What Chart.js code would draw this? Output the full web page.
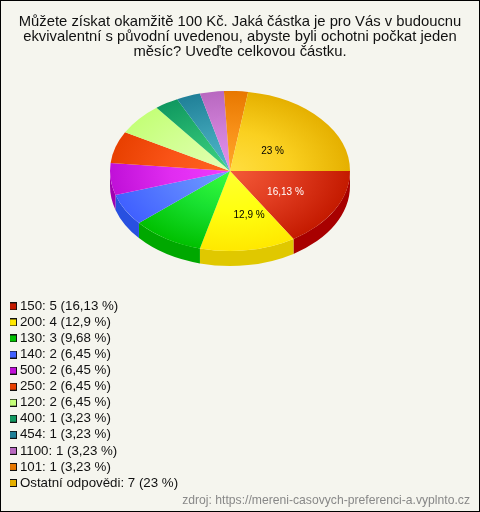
<!DOCTYPE html>
<html><head><meta charset="utf-8">
<style>html,body{margin:0;padding:0;background:#f5f5ee}canvas{display:block}</style>
<script src="https://cdn.jsdelivr.net/npm/chart.js@4"></script></head>
<body><canvas id="c" width="480" height="512"></canvas>
<script>
const categories=["150","200","130","140","500","250","120","400","454","1100","101","Ostatní odpovědi"];
const counts=[5,4,3,2,2,2,2,1,1,1,1,7];
const percents=["16,13","12,9","9,68","6,45","6,45","6,45","6,45","3,23","3,23","3,23","3,23","23"];
const titleLines=["Můžete získat okamžitě 100 Kč. Jaká částka je pro Vás v budoucnu","ekvivalentní s původní uvedenou, abyste byli ochotni počkat jeden","měsíc? Uveďte celkovou částku."];
const sourceText="zdroj: https://mereni-casovych-preferenci-a.vyplnto.cz";
const legendColors=["#c41a00","#ffe800","#00c000","#4060ff","#c010d8","#e84000","#c4ff78","#109860","#208098","#b868c0","#e87800","#e5b000"];
const innerColors=["#f45a38","#ffff30","#38ff40","#70a0ff","#f03cff","#ff6420","#e4ffb4","#40d484","#50b8cc","#e490f0","#ffa828","#ffde40"];
const midColors=["#e03c20","#ffff10","#18e030","#5a80ff","#e02cf0","#fa5418","#d4ff98","#28b870","#3ca0b4","#d080d8","#f89018","#fad020"];
const sideColors=["#a80000","#e0c800","#00a800","#2850e0","#a000b0","#c03000","#a0d060","#087848","#106880","#985090","#c06000","#c09000"];
const sliceLabels={0:{t:"16,13 %",c:"#fff",dx:3,dy:2},1:{t:"12,9 %",c:"#000",dx:10,dy:5},11:{t:"23 %",c:"#000",dx:-3,dy:6}};
const CX=230,CY=171,SQ=2/3,DEPTH=15,R=120;
const bg="#f5f5ee";
const swatch=i=>{const s=document.createElement('canvas');s.width=8;s.height=8;const g=s.getContext('2d');
 g.fillStyle="#111";g.fillRect(0,0,8,8);g.fillStyle=legendColors[i];g.fillRect(1,1,6,6);return s;};
const pie3d={id:'pie3d',
 beforeDraw(ch){const x=ch.ctx;x.save();x.fillStyle=bg;x.fillRect(0,0,480,512);x.strokeStyle="#000";x.lineWidth=1;x.strokeRect(.5,.5,479,511);x.restore();},
 beforeDatasetsDraw(ch){const x=ch.ctx,arcs=ch.getDatasetMeta(0).data;
  arcs.forEach((a,i)=>{
   const norm=v=>{let t=v%(2*Math.PI);return t<0?t+2*Math.PI:t;};
   let s=norm(a.startAngle),e=s+(a.endAngle-a.startAngle);
   s=Math.max(s,0);e=Math.min(e,Math.PI);
   if(e<=s)return;
   x.beginPath();x.ellipse(CX,CY+DEPTH,a.outerRadius,a.outerRadius*SQ,0,s,e);
   x.ellipse(CX,CY,a.outerRadius,a.outerRadius*SQ,0,e,s,true);x.closePath();
   x.fillStyle=sideColors[i];x.fill();
  });
  const c=arcs[0];
  x.save();x.translate(CX,CY);x.scale(1,SQ);x.translate(-c.x,-c.y);
 },
 afterDatasetsDraw(ch){const x=ch.ctx,arcs=ch.getDatasetMeta(0).data;x.restore();
  x.save();x.font="10px 'Liberation Sans',Arial";x.textAlign="center";x.textBaseline="middle";
  Object.keys(sliceLabels).forEach(k=>{const a=arcs[k],l=sliceLabels[k],m=(a.startAngle+a.endAngle)/2;
   x.fillStyle=l.c;x.fillText(l.t,CX+Math.cos(m)*a.outerRadius/2+l.dx,CY+Math.sin(m)*a.outerRadius/2*SQ+l.dy);});
  x.restore();}
};
new Chart(document.getElementById('c'),{type:'pie',plugins:[pie3d],
 data:{labels:categories,datasets:[{data:counts,clip:false,borderWidth:0,
  backgroundColor(c){const a=c.chart.chartArea;if(!a)return legendColors[c.dataIndex];
   const mx=(a.left+a.right)/2,my=(a.top+a.bottom)/2,g=c.chart.ctx.createRadialGradient(mx,my,0,mx,my,R);
   g.addColorStop(0,innerColors[c.dataIndex]);g.addColorStop(.5,midColors[c.dataIndex]);g.addColorStop(1,legendColors[c.dataIndex]);return g;}}]},
 options:{responsive:false,animation:false,rotation:90,radius:R,events:[],
  layout:{padding:{left:10,top:0,right:10,bottom:0}},
  plugins:{tooltip:{enabled:false},
   title:{display:true,text:titleLines,color:"#111",font:{family:"'Liberation Sans',Arial",size:14.8,weight:'normal',lineHeight:15/14.8},padding:{top:14,bottom:6}},
   subtitle:{display:true,text:sourceText,position:'bottom',align:'end',color:"#888",font:{family:"'Liberation Sans',Arial",size:12.17,weight:'normal'},padding:{top:1,bottom:4}},
   legend:{position:'left',align:'end',fullSize:false,labels:{boxWidth:0.5,boxHeight:8,usePointStyle:true,padding:2.76,color:"#111",font:{family:"'Liberation Sans',Arial",size:13.3},
    generateLabels(){return categories.map((n,i)=>({text:`${n}: ${counts[i]} (${percents[i]} %)`,fontColor:"#111",pointStyle:swatch(i),hidden:false,index:i,lineWidth:0}));}}}
  }}});
</script></body></html>
